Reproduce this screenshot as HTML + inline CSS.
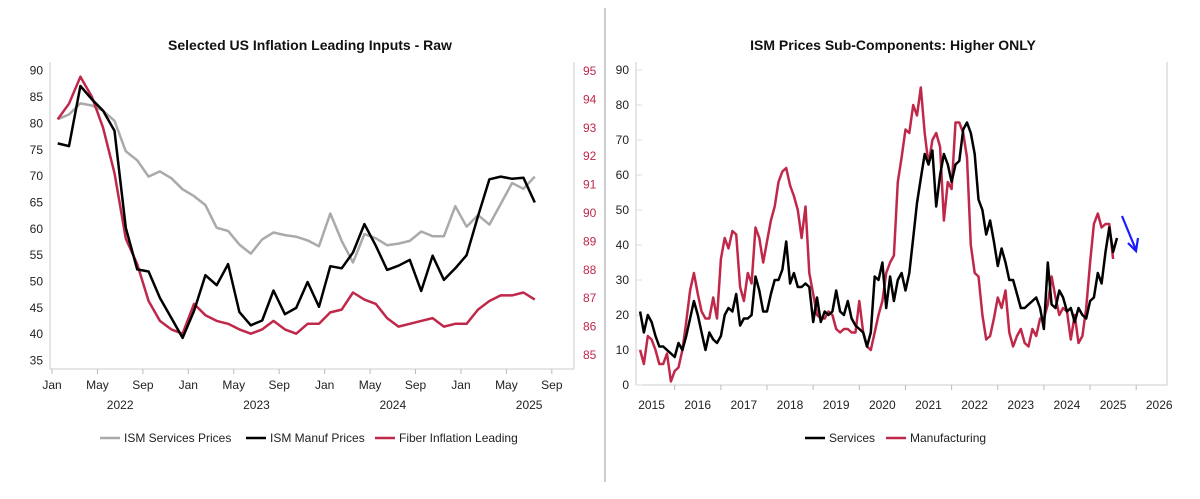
<!DOCTYPE html>
<html><head><meta charset="utf-8"><style>
body{margin:0;background:#fff;width:1200px;height:494px;overflow:hidden;font-family:"Liberation Sans",sans-serif}
svg text{font-family:"Liberation Sans",sans-serif}
</style></head><body>
<svg id="s" width="1200" height="494" viewBox="0 0 1200 494">
<line x1="605" y1="8" x2="605" y2="482" stroke="#bbb" stroke-width="1.5"/>
<text x="310" y="50" text-anchor="middle" font-size="14" font-weight="bold" fill="#111">Selected US Inflation Leading Inputs - Raw</text>
<text x="893" y="50" text-anchor="middle" font-size="14" font-weight="bold" fill="#111">ISM Prices Sub-Components: Higher ONLY</text>
<g id="L"></g>
<g id="R"></g>
<g>
<g><line x1="100" y1="438" x2="120" y2="438" stroke="#aaa" stroke-width="2.5"/><text x="124" y="442" font-size="12" fill="#222">ISM Services Prices</text></g>
<g><line x1="246" y1="438" x2="266" y2="438" stroke="#000" stroke-width="2.5"/><text x="270" y="442" font-size="12" fill="#222">ISM Manuf Prices</text></g>
<g><line x1="375" y1="438" x2="395" y2="438" stroke="#c0284a" stroke-width="2.5"/><text x="399" y="442" font-size="12" fill="#222">Fiber Inflation Leading</text></g>
</g>
<g>
<g><line x1="805" y1="438" x2="825" y2="438" stroke="#000" stroke-width="2.5"/><text x="829" y="442" font-size="12" fill="#222">Services</text></g>
<g><line x1="886" y1="438" x2="906" y2="438" stroke="#c0284a" stroke-width="2.5"/><text x="910" y="442" font-size="12" fill="#222">Manufacturing</text></g>
</g>
<g stroke="#1a1aff" stroke-width="2.2" fill="none">
<line x1="1122" y1="216" x2="1136" y2="250"/><polyline points="1128,243 1136,251 1138,238"/>
</g>
</svg>
<script>
const leftMonths=["Jan","May","Sep","Jan","May","Sep","Jan","May","Sep","Jan","May","Sep"];
const leftYears=["2022","2023","2024","2025"];
const leftTicksL=[35,40,45,50,55,60,65,70,75,80,85,90];
const leftTicksR=[85,86,87,88,89,90,91,92,93,94,95];
const svcPrices=[80.8,81.7,83.8,83.4,82.4,80.5,74.7,73,69.9,70.9,69.6,67.5,66.2,64.5,60.2,59.6,57,55.3,58,59.3,58.8,58.5,57.8,56.7,62.9,57.7,53.6,59,58.2,56.9,57.2,57.7,59.5,58.6,58.6,64.3,60.4,62.6,60.8,64.7,68.7,67.6,69.9];
const manufPrices=[76.2,75.7,87.1,84.6,82.4,78.6,60.2,52.3,51.9,46.9,43.1,39.3,44.4,51.2,49.3,53.3,44.2,41.7,42.6,48.3,43.8,45,49.9,45.2,52.9,52.5,55.5,60.9,56.8,52.2,53,54.1,48.2,54.9,50.3,52.5,55,62.4,69.4,69.9,69.5,69.7,65];
const fiberLeading=[93.3,93.85,94.8,94.1,93.0,91.4,89.1,88.2,86.9,86.2,85.9,85.75,86.8,86.4,86.2,86.1,85.9,85.75,85.9,86.2,85.9,85.75,86.1,86.1,86.5,86.6,87.2,86.95,86.8,86.3,86.0,86.1,86.2,86.3,86.0,86.1,86.1,86.6,86.9,87.1,87.1,87.2,86.95];
const rightYears=["2015","2016","2017","2018","2019","2020","2021","2022","2023","2024","2025","2026"];
const rightTicks=[0,10,20,30,40,50,60,70,80,90];
const servicesR=[21,15,20,18,14,11,11,10,9,8,12,10,14,19,24,20,15,10,15,13,12,14,20,22,21,26,17,19,19,20,31,27,21,21,26,30,30,33,41,29,32,28,28,29,28,18,25,18,21,20,21,27,21,20,24,19,17,16,15,11,15,31,30,35,22,31,24,30,32,27,32,42,52,59,66,63,67,51,60,66,63,58,63,64,73,75,72,66,53,50,43,47,41,34,39,35,30,30,26,22,22,23,24,25,22,16,35,23,22,27,25,21,22,18,22,20,19,24,25,32,29,38,45,38,42];
const manufR=[10,6,14,13,10,6,6,9,1,4,5,10,18,27,32,26,21,19,19,25,19,36,42,39,44,43,28,24,32,29,45,42,35,41,47,51,58,61,62,57,54,50,42,51,32,26,20,19,19,21,20,16,15,16,16,15,15,24,15,11,10,15,20,24,32,35,37,58,65,73,72,80,77,85,72,63,70,72,68,47,58,56,75,75,72,65,40,32,31,20,13,14,19,25,22,27,15,11,14,16,12,11,16,14,19,19,23,31,25,20,22,21,13,20,12,14,22,35,46,49,45,46,46,36];
const NS="http://www.w3.org/2000/svg";
function mk(p,t,a){const e=document.createElementNS(NS,t);for(const k in a)e.setAttribute(k,a[k]);p.appendChild(e);return e;}
// Left chart
const L=document.getElementById('L');
const lx=m=>52+m*11.36, lyL=v=>369-(v-33.4)*5.27, lyR=v=>355-(v-85)*28.4;
mk(L,'line',{x1:50,y1:62,x2:50,y2:369,stroke:'#ccc'});
mk(L,'line',{x1:574,y1:62,x2:574,y2:369,stroke:'#ccc'});
mk(L,'line',{x1:50,y1:369,x2:574,y2:369,stroke:'#ccc'});
leftTicksL.forEach(v=>{const t=mk(L,'text',{x:43,y:lyL(v)+4,'text-anchor':'end','font-size':12,fill:'#222'});t.textContent=v;

});
leftTicksR.forEach(v=>{const t=mk(L,'text',{x:583,y:lyR(v)+4,'font-size':12,fill:'#c0284a'});t.textContent=v;

});
leftMonths.forEach((m,i)=>{const x=lx(i*4);mk(L,'line',{x1:x,y1:369,x2:x,y2:374,stroke:'#bbb'});
const t=mk(L,'text',{x:x,y:389,'text-anchor':'middle','font-size':12,fill:'#222'});t.textContent=m;

});
leftYears.forEach((y,i)=>{const t=mk(L,'text',{x:lx(i*12+6),y:409,'text-anchor':'middle','font-size':12,fill:'#222'});t.textContent=y;

});
function line(g,arr,fx,fy,col,name){const p=mk(g,'polyline',{points:arr.map((v,i)=>fx(i).toFixed(1)+','+fy(v).toFixed(1)).join(' '),fill:'none',stroke:col,'stroke-width':2.5,'stroke-linejoin':'round'});

}
const lxm=i=>lx(i+0.5);
line(L,svcPrices,lxm,lyL,'#aaa','services-prices-line');
line(L,fiberLeading,lxm,lyR,'#c0284a','fiber-leading-line');
line(L,manufPrices,lxm,lyL,'#000','manuf-prices-line');
// Right chart
const R=document.getElementById('R');
const rx=m=>674.7+(m-9)*3.846, ry=v=>385-v*3.5;
mk(R,'line',{x1:636,y1:62,x2:636,y2:385,stroke:'#ccc'});
mk(R,'line',{x1:1167,y1:62,x2:1167,y2:385,stroke:'#ccc'});
mk(R,'line',{x1:636,y1:385,x2:1167,y2:385,stroke:'#ccc'});
rightTicks.forEach(v=>{mk(R,'line',{x1:636,y1:ry(v),x2:642,y2:ry(v),stroke:'#ddd'});
const t=mk(R,'text',{x:629,y:ry(v)+4,'text-anchor':'end','font-size':12,fill:'#222'});t.textContent=v;

});
rightYears.forEach((y,i)=>{const x0=674.7+(i-1)*46.15;if(i>0)mk(R,'line',{x1:x0,y1:385,x2:x0,y2:390,stroke:'#bbb'});
const t=mk(R,'text',{x:x0+23,y:409,'text-anchor':'middle','font-size':12,fill:'#222'});t.textContent=y;

});
line(R,manufR,rx,ry,'#c0284a','manufacturing-line');
line(R,servicesR,rx,ry,'#000','services-line');
</script>
</body></html>
